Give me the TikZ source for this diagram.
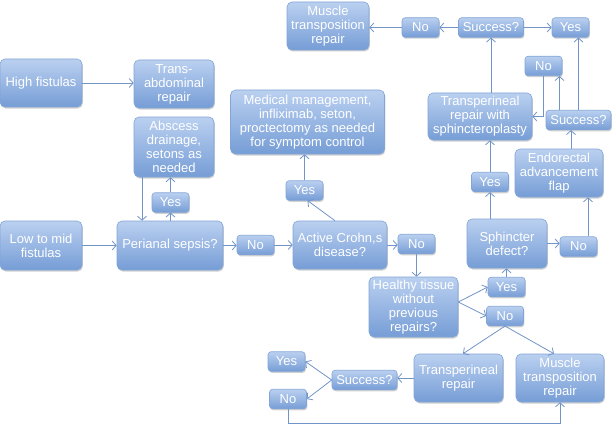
\documentclass[tikz,border=0pt]{standalone}
\usepackage{fontspec}
\setmainfont{Liberation Sans}
\usetikzlibrary{arrows.meta, shadows, positioning, calc}
\definecolor{boxtop}{HTML}{BAD0F0}
\definecolor{boxbot}{HTML}{769DD6}
\definecolor{boxedge}{HTML}{82A5D6}
\definecolor{flowline}{HTML}{7194C9}

\begin{document}
\begin{tikzpicture}[x=1pt, y=-1pt,
    box/.style={draw=boxedge, line width=0.6pt, rounded corners=5pt, top color=boxtop, bottom color=boxbot,
      text=white, align=center, font=\fontsize{13}{14}\selectfont, inner sep=1pt,
      drop shadow={shadow xshift=0.8pt, shadow yshift=-1.5pt, opacity=0.3, fill=black!60}},
    tag/.style={box, rounded corners=3pt, minimum width=37pt, minimum height=19.5pt},
    flow/.style={draw=flowline, line width=0.8pt, -{Straight Barb[length=4pt, width=9pt]}}]
    \useasboundingbox (0,0) rectangle (612,425);

    % Left column
    \node[box, minimum width=82pt, minimum height=48pt] (high) at (41,83) {High fistulas};
    \node[box, minimum width=80pt, minimum height=48pt] (tabd) at (174,84) {Trans-\\abdominal\\repair};
    \node[box, minimum width=80pt, minimum height=60pt] (absc) at (174,147) {Abscess\\drainage,\\setons as\\needed};
    \node[box, minimum width=82pt, minimum height=49pt] (low) at (41,245.5) {Low to mid\\fistulas};
    \node[box, minimum width=106pt, minimum height=49pt] (sepsis) at (170,245.5) {Perianal sepsis?};

    % Middle
    \node[box, minimum width=154pt, minimum height=64pt] (medic) at (307.5,122) {Medical management,\\infliximab, seton,\\proctectomy as needed\\for symptom control};
    \node[box, minimum width=94pt, minimum height=48pt] (crohn) at (340,245) {Active Crohn,s\\disease?};
    \node[box, minimum width=89pt, minimum height=60pt] (healthy) at (413.5,307) {Healthy tissue\\without\\previous\\repairs?};
    \node[box, minimum width=82pt, minimum height=48pt] (musT) at (328,26) {Muscle\\transposition\\repair};

    % Right side
    \node[box, minimum width=104pt, minimum height=47pt] (tsph) at (480,116.5) {Transperineal\\repair with\\sphincteroplasty};
    \node[box, minimum width=88pt, minimum height=48pt] (endo) at (559,173) {Endorectal\\advancement\\flap};
    \node[box, minimum width=80pt, minimum height=49pt] (sphinc) at (507,243.5) {Sphincter\\defect?};
    \node[box, minimum width=89pt, minimum height=48pt] (tper) at (458.5,378) {Transperineal\\repair};
    \node[box, minimum width=88pt, minimum height=48pt] (musB) at (560,378) {Muscle\\transposition\\repair};

    % Yes / No tags
    \foreach \nm/\x/\y/\txt in {yesA/170.5/202.5/Yes, noA/255.5/245/No, yesD/304.5/190.5/Yes,
        noB/416.5/244/No, yesB/506.5/287/Yes, noC/505/316/No, yesE/490/182/Yes, noD/578.5/246.5/No,
        noF/543.5/66/No, yesF/570.5/27.5/Yes, noG/420.5/27.5/No, yesC/286.5/361.5/Yes, noE/288/399/No}
      \node[tag] (\nm) at (\x,\y) {\txt};
    \foreach \nm/\x/\y in {succT/491/27.5, succR/578.5/120, succB/364.5/380}
      \node[tag, minimum width=65pt] (\nm) at (\x,\y) {Success?};

    % Connectors
    \draw[flow] (high.east) -- (high.east -| tabd.west);
    \draw[flow] (low.east) -- (low.east -| sepsis.west);
    \draw[flow] (sepsis.north -| yesA.south) -- (yesA.south);
    \draw[flow] (yesA.north) -- (yesA.north |- absc.south);
    \draw[flow] ([xshift=-32pt]absc.south) -- ([xshift=-32pt]absc.south |- sepsis.north);
    \draw[flow] (sepsis.east) -- (sepsis.east -| noA.west);
    \draw[flow] (noA.east) -- (noA.east -| crohn.west);
    \draw[flow] ([xshift=-5pt]crohn.north) -- ([xshift=3pt]yesD.south);
    \draw[flow] (yesD.north) -- (yesD.north |- medic.south);
    \draw[flow] (crohn.east) -- (crohn.east -| noB.west);
    \draw[flow] (noB.south) -- (noB.south |- healthy.north);
    \draw[flow] ([yshift=5pt]healthy.east) -- (yesB.west);
    \draw[flow] ([yshift=5pt]healthy.east) -- (noC.west);
    \draw[flow] (yesB.north) -- (yesB.north |- sphinc.south);
    \draw[flow] (noC.south) -- ([xshift=4.5pt]tper.north);
    \draw[flow] (noC.south) -- ([xshift=-6pt]musB.north);
    \draw[flow] (tper.west) -- (tper.west -| succB.east);
    \draw[flow] (succB.west) -- (yesC.east);
    \draw[flow] (succB.west) -- (noE.east);
    \draw[flow] (noE.south) -- ++(0,14) -| (musB.south);
    \draw[flow] (sphinc.north -| yesE.south) -- (yesE.south);
    \draw[flow] (yesE.north) -- (yesE.north |- tsph.south);
    \draw[flow] (sphinc.east) -- (sphinc.east -| noD.west);
    \draw[flow] ([xshift=9.5pt]noD.north) -- ([xshift=9.5pt]noD.north |- endo.south);
    \draw[flow] ([xshift=12pt]endo.north) -- ([xshift=12pt]endo.north |- succR.south);
    \draw[flow] ([xshift=-19pt]succR.north) -- ([xshift=-19pt]succR.north |- noF.south);
    \draw[flow] (noF.south) |- (tsph.east);
    \draw[flow] (succR.north) -- (succR.north |- yesF.south);
    \draw[flow] (tsph.north -| succT.south) -- (succT.south);
    \draw[flow] (succT.east) -- (succT.east -| yesF.west);
    \draw[flow] (succT.west) -- (succT.west -| noG.east);
    \draw[flow] (noG.west) -- (noG.west -| musT.east);
\end{tikzpicture}
\end{document}
